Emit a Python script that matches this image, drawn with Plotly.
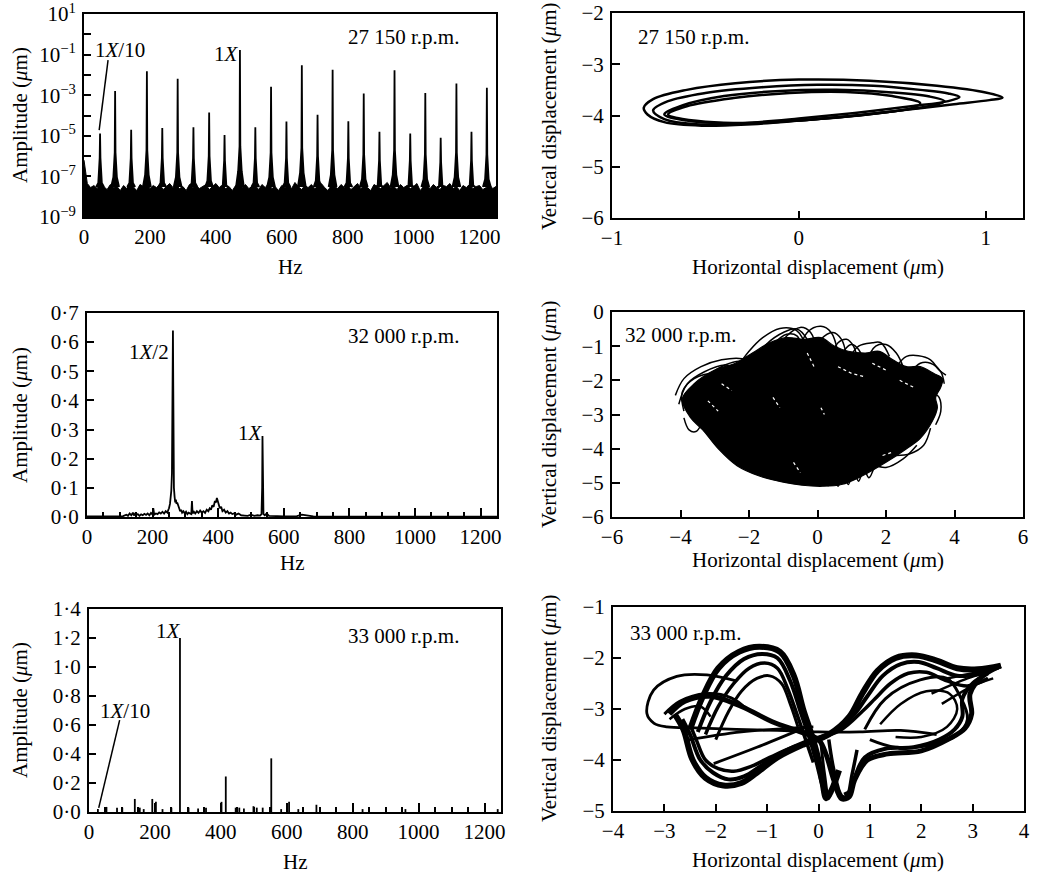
import plotly.graph_objects as go

W, H = 1040, 876
FONT = "Liberation Serif"
FS = 21

# ---------------- Panel 1: 27150 rpm spectrum (log) ----------------
floor_hz = list(range(0, 1260, 10))
floor_log = [-6.2, -7.35, -7.55, -7.45, -7.6, -7.3, -7.5, -7.65, -7.4, -7.55,
             -7.5, -7.7, -7.45, -7.6, -7.35, -7.55, -7.7, -7.4, -7.5, -7.3,
             -7.6, -7.45, -7.55, -7.4, -7.65, -7.5, -7.35, -7.55, -7.45, -7.6,
             -7.5, -7.7, -7.4, -7.55, -7.45, -7.6, -7.5, -7.4, -7.65, -7.5,
             -7.35, -7.55, -7.45, -7.6, -7.5, -7.7, -7.45, -7.3, -7.55, -7.4,
             -7.6, -7.5, -7.45, -7.65, -7.4, -7.55, -7.35, -7.6, -7.5, -7.7,
             -7.45, -7.55, -7.4, -7.6, -7.3, -7.5, -7.65, -7.45, -7.55, -7.4,
             -7.6, -7.5, -7.35, -7.55, -7.7, -7.45, -7.5, -7.6, -7.4, -7.55,
             -7.45, -7.65, -7.5, -7.35, -7.6, -7.45, -7.55, -7.7, -7.4, -7.5,
             -7.6, -7.45, -7.3, -7.55, -7.5, -7.65, -7.4, -7.55, -7.45, -7.6,
             -7.5, -7.35, -7.7, -7.5, -7.45, -7.6, -7.4, -7.55, -7.65, -7.45,
             -7.5, -7.35, -7.6, -7.5, -7.7, -7.45, -7.55, -7.4, -7.6, -7.5,
             -7.45, -7.65, -7.55, -7.4, -7.6, -7.5]
pk_hz = [48.7, 94.4, 143.1, 190.8, 237.5, 284.2, 332.0, 379.7, 426.4, 473.1,
         519.8, 567.5, 614.2, 660.9, 708.6, 754.3, 802.0, 848.7, 896.4, 942.1,
         989.8, 1035.5, 1082.2, 1129.9, 1175.6, 1222.3]
pk_amp = [1.3e-5, 1.6e-3, 2.0e-5, 1.5e-2, 2.4e-5, 6.5e-3, 2.6e-5, 1.4e-4, 1.1e-5, 1.7e-1,
          2.6e-5, 2.6e-3, 5.0e-5, 3.0e-2, 1.1e-4, 1.8e-2, 5.2e-5, 1.2e-3, 1.6e-5, 1.7e-2,
          1.3e-5, 1.3e-3, 8.0e-6, 3.8e-3, 1.6e-5, 2.3e-3]
pk_skirt = [8e-7, 1.5e-6, 8e-7, 2e-6, 8e-7, 1.5e-6, 8e-7, 1e-6, 6e-7, 3e-6,
            8e-7, 1.5e-6, 8e-7, 2.5e-6, 1e-6, 2e-6, 8e-7, 1.2e-6, 6e-7, 2e-6,
            6e-7, 1.2e-6, 5e-7, 1.5e-6, 6e-7, 1.2e-6]

# ---------------- Panel 3: 32000 rpm spectrum ----------------
s2_hz = [0, 40, 80, 110, 120, 125, 130, 135, 140, 143, 147, 150, 155, 160, 165, 170, 175, 180,
         185, 190, 195, 200, 202, 205, 210, 215, 220, 225, 230, 235, 240, 245, 248, 250, 253,
         255, 257, 259, 261, 262, 263, 264, 265, 267, 269, 271, 273, 275, 278, 281, 284, 287,
         290, 294, 298, 302, 306, 310, 314, 318, 320, 322, 326, 330, 335, 340, 345, 350, 355,
         360, 365, 370, 374, 378, 382, 386, 390, 393, 396, 399, 402, 405, 409, 413, 418, 423,
         428, 433, 438, 443, 448, 455, 462, 470, 480, 490, 500, 510, 520, 528, 532, 534, 535,
         536, 538, 542, 548, 555, 565, 580, 600, 620, 640, 655, 665, 675, 690, 720, 800, 1000, 1250]
s2_amp = [0.002, 0.002, 0.003, 0.003, 0.008, 0.004, 0.012, 0.006, 0.015, 0.005, 0.012, 0.006,
          0.010, 0.004, 0.009, 0.006, 0.011, 0.007, 0.012, 0.006, 0.014, 0.008, 0.030, 0.008,
          0.012, 0.010, 0.016, 0.012, 0.018, 0.012, 0.020, 0.015, 0.025, 0.030, 0.045, 0.060,
          0.090, 0.150, 0.380, 0.640, 0.450, 0.200, 0.100, 0.070, 0.050, 0.060, 0.045, 0.050,
          0.035, 0.030, 0.020, 0.025, 0.015, 0.020, 0.012, 0.018, 0.010, 0.015, 0.012, 0.010,
          0.055, 0.012, 0.018, 0.012, 0.020, 0.014, 0.022, 0.015, 0.020, 0.014, 0.025, 0.020,
          0.030, 0.025, 0.040, 0.035, 0.055, 0.050, 0.065, 0.050, 0.045, 0.030, 0.035, 0.020,
          0.025, 0.015, 0.020, 0.012, 0.015, 0.010, 0.012, 0.008, 0.012, 0.006, 0.005, 0.004,
          0.008, 0.004, 0.006, 0.005, 0.010, 0.100, 0.278, 0.100, 0.010, 0.006, 0.012, 0.004,
          0.003, 0.003, 0.002, 0.002, 0.003, 0.008, 0.006, 0.004, 0.002, 0.001, 0.001, 0.001, 0.001]

# ---------------- Panel 5: 33000 rpm spectrum ----------------
s3_hz = [27, 53, 85, 101, 139, 154, 166, 192, 203, 223, 250, 276, 302, 331, 355, 402, 415,
         445, 456, 470, 499, 509, 527, 553, 583, 607, 635, 690, 830, 960, 1240]
s3_amp = [0.02, 0.035, 0.03, 0.03, 0.09, 0.03, 0.02, 0.09, 0.07, 0.02, 0.03, 1.2, 0.03, 0.025,
          0.03, 0.07, 0.245, 0.03, 0.03, 0.025, 0.04, 0.03, 0.03, 0.37, 0.02, 0.07, 0.02, 0.05,
          0.02, 0.02, 0.02]

# ---------------- Panel 2: 27150 rpm orbit ----------------
o1_loops = [
    ([-0.83, -0.78, -0.60, -0.34, 0.00, 0.38, 0.74, 1.00, 1.09, 1.02, 0.83, 0.55, 0.29, 0.00, -0.25, -0.52, -0.72, -0.81, -0.83],
     [-3.85, -3.68, -3.50, -3.37, -3.30, -3.32, -3.42, -3.55, -3.65, -3.70, -3.78, -3.90, -4.01, -4.10, -4.17, -4.20, -4.13, -3.98, -3.85]),
    ([-0.78, -0.70, -0.50, -0.20, 0.10, 0.40, 0.65, 0.80, 0.86, 0.80, 0.60, 0.30, 0.00, -0.30, -0.55, -0.72, -0.78],
     [-3.90, -3.72, -3.56, -3.45, -3.40, -3.42, -3.50, -3.57, -3.64, -3.72, -3.82, -3.95, -4.06, -4.15, -4.17, -4.07, -3.90]),
    ([-0.72, -0.62, -0.40, -0.10, 0.20, 0.50, 0.70, 0.78, 0.72, 0.50, 0.20, -0.10, -0.40, -0.60, -0.72],
     [-3.98, -3.80, -3.62, -3.52, -3.50, -3.55, -3.63, -3.72, -3.80, -3.92, -4.04, -4.12, -4.15, -4.10, -3.98]),
    ([-0.70, -0.60, -0.35, -0.05, 0.25, 0.50, 0.65, 0.60, 0.40, 0.10, -0.20, -0.50, -0.65, -0.70],
     [-3.98, -3.82, -3.66, -3.56, -3.54, -3.62, -3.76, -3.86, -3.96, -4.07, -4.14, -4.12, -4.05, -3.98]),
]

# ---------------- Panel 4: 32000 rpm orbit ----------------
o2_core_x = [-3.95, -3.60, -3.00, -2.40, -1.90, -1.40, -0.90, -0.40, 0.10, 0.50, 0.90, 1.40, 1.80,
             2.20, 2.60, 3.00, 3.40, 3.65, 3.60, 3.45, 3.50, 3.35, 3.00, 2.60, 2.00, 1.30, 0.70,
             0.15, -0.45, -1.00, -1.70, -2.35, -2.90, -3.35, -3.70, -3.95]
o2_core_y = [-2.55, -2.10, -1.70, -1.50, -1.20, -0.90, -0.75, -0.80, -0.75, -1.00, -1.15, -1.20, -1.15,
             -1.40, -1.60, -1.60, -1.80, -1.95, -2.20, -2.50, -2.80, -3.20, -3.70, -4.00, -4.40, -4.80, -5.05,
             -5.10, -5.07, -4.98, -4.80, -4.50, -4.00, -3.45, -3.10, -2.55]
o2_arcs = [
    ([-4.15, -3.90, -3.40, -2.80, -2.20, -1.80], [-2.44, -1.95, -1.60, -1.40, -1.37, -1.60]),
    ([-4.05, -3.80, -3.30, -2.70, -2.30], [-2.70, -2.10, -1.75, -1.55, -1.70]),
    ([-3.90, -3.95, -3.60, -3.00, -2.60], [-2.90, -2.35, -1.95, -1.80, -2.00]),
    ([-3.50, -3.20, -2.70, -2.20, -1.90], [-2.40, -1.90, -1.55, -1.45, -1.70]),
    ([-2.40, -2.00, -1.60, -1.10, -0.60, -0.30], [-1.70, -1.15, -0.75, -0.48, -0.55, -1.10]),
    ([-2.00, -1.50, -1.00, -0.60, -0.30, -0.10], [-1.60, -0.95, -0.60, -0.50, -0.80, -1.30]),
    ([-1.70, -1.30, -0.90, -0.60, -0.45], [-1.50, -0.95, -0.65, -0.70, -1.10]),
    ([-1.30, -0.90, -0.50, -0.20, 0.00], [-1.30, -0.70, -0.45, -0.60, -1.20]),
    ([-0.60, -0.30, 0.10, 0.40, 0.60], [-1.30, -0.60, -0.42, -0.60, -1.20]),
    ([-0.20, 0.10, 0.45, 0.70, 0.85], [-1.40, -0.80, -0.60, -0.80, -1.30]),
    ([0.30, 0.60, 0.85, 1.05, 1.20], [-1.50, -0.90, -0.80, -1.00, -1.50]),
    ([0.60, 0.80, 1.00, 1.20, 1.40], [-1.60, -1.10, -0.95, -1.10, -1.60]),
    ([0.90, 1.20, 1.60, 1.85, 2.10], [-1.40, -1.00, -0.90, -0.90, -1.30]),
    ([1.40, 1.70, 2.00, 2.30, 2.50], [-1.50, -1.00, -0.95, -1.20, -1.60]),
    ([2.30, 2.60, 2.95, 3.30, 3.55, 3.75], [-1.60, -1.30, -1.28, -1.40, -1.70, -1.85]),
    ([2.70, 3.00, 3.30, 3.60, 3.70], [-1.80, -1.50, -1.50, -1.75, -2.10]),
    ([3.30, 3.55, 3.60, 3.45], [-2.30, -2.50, -2.90, -3.30]),
    ([-3.90, -3.75, -3.55, -3.40], [-3.10, -3.45, -3.50, -3.30]),
    ([-3.80, -3.55, -3.35], [-2.80, -3.05, -3.00]),
    ([3.30, 3.10, 2.70, 2.30], [-3.40, -3.90, -4.15, -4.20]),
    ([2.90, 2.50, 2.00, 1.60], [-3.90, -4.30, -4.55, -4.45]),
    ([0.30, 0.45, 0.60, 0.75, 0.90, 1.05, 1.20, 1.35, 1.50, 1.65],
     [-5.10, -4.75, -5.10, -4.70, -5.05, -4.65, -4.95, -4.60, -4.85, -4.55]),
]
o2_gaps = [
    ([-2.80, -2.50], [-2.10, -2.30]),
    ([0.60, 1.00, 1.40], [-1.60, -1.80, -1.90]),
    ([1.60, 2.00], [-1.50, -1.70]),
    ([-1.30, -1.10], [-2.50, -2.80]),
    ([0.10, 0.20], [-2.80, -3.00]),
    ([-0.70, -0.50], [-4.40, -4.70]),
    ([1.90, 2.20], [-4.20, -4.10]),
    ([-3.20, -2.90], [-2.60, -2.90]),
    ([-0.30, -0.10], [-1.20, -1.60]),
    ([2.40, 2.80], [-2.00, -2.20]),
]

# ---------------- Panel 6: 33000 rpm orbit ----------------
o3_strands = [
    ([-1.60, -2.17, -2.76, -3.21, -3.34, -3.20, -2.95, -2.40, -1.60, -0.80, 0.00, 0.80, 1.60, 2.30],
     [-2.45, -2.33, -2.36, -2.63, -3.09, -3.28, -3.35, -3.37, -3.40, -3.42, -3.45, -3.45, -3.42, -3.50], 2.8),
    ([-2.50, -2.25, -1.95, -1.55, -1.15, -0.75, -0.48, -0.30, -0.12, 0.00, 0.08, 0.15, 0.25, 0.40],
     [-3.40, -2.75, -2.20, -1.88, -1.78, -1.88, -2.35, -3.00, -3.55, -4.00, -4.45, -4.75, -4.60, -4.20], 6),
    ([-2.35, -2.10, -1.80, -1.45, -1.10, -0.80, -0.55, -0.35, -0.18, -0.05, 0.05, 0.12],
     [-3.45, -2.85, -2.35, -2.02, -1.92, -2.00, -2.45, -3.05, -3.55, -4.00, -4.40, -4.65], 4),
    ([-2.20, -1.95, -1.65, -1.35, -1.05, -0.80, -0.60, -0.42, -0.25, -0.10],
     [-3.50, -2.95, -2.50, -2.20, -2.10, -2.20, -2.60, -3.10, -3.60, -4.05], 3.5),
    ([-2.00, -1.75, -1.50, -1.20, -0.95, -0.72, -0.55, -0.40],
     [-3.60, -3.05, -2.65, -2.40, -2.35, -2.50, -2.90, -3.35], 3),
    ([-2.80, -2.63, -2.45, -2.20, -1.85, -1.50, -1.20, -0.80, -0.30, 0.20, 0.60, 0.85, 1.15, 1.50, 1.90, 2.30, 2.70, 3.10, 3.55],
     [-3.10, -3.40, -4.00, -4.35, -4.50, -4.45, -4.25, -3.95, -3.70, -3.50, -3.15, -2.70, -2.25, -2.00, -1.95, -2.05, -2.20, -2.22, -2.15], 6),
    ([-2.65, -2.50, -2.30, -2.05, -1.75, -1.45, -1.10, -0.70, -0.20, 0.30, 0.70, 0.95, 1.25, 1.60, 1.95, 2.30, 2.70, 3.20],
     [-3.20, -3.50, -4.00, -4.25, -4.38, -4.32, -4.10, -3.85, -3.62, -3.45, -3.10, -2.75, -2.35, -2.12, -2.08, -2.20, -2.35, -2.30], 4),
    ([-2.50, -2.38, -2.20, -1.95, -1.65, -1.30, -0.95, -0.50, 0.00, 0.45, 0.85, 1.10, 1.40, 1.75, 2.10, 2.50, 2.90, 3.30],
     [-3.30, -3.60, -4.00, -4.17, -4.22, -4.12, -3.95, -3.75, -3.58, -3.40, -3.05, -2.80, -2.50, -2.30, -2.28, -2.45, -2.55, -2.40], 3.5),
    ([3.55, 3.20, 2.95, 2.98, 2.85, 2.55, 2.00, 1.35, 0.95, 0.70, 0.60, 0.45, 0.30, 0.15, 0.00, -0.35, -0.90, -1.50, -2.10, -2.60, -2.90],
     [-2.15, -2.35, -2.70, -3.10, -3.38, -3.58, -3.82, -3.88, -4.00, -4.40, -4.72, -4.76, -4.40, -3.90, -3.60, -3.45, -3.25, -2.95, -2.75, -2.85, -3.10], 5),
    ([3.30, 3.00, 2.80, 2.80, 2.65, 2.35, 1.85, 1.30, 0.90, 0.72, 0.62, 0.50],
     [-2.30, -2.50, -2.80, -3.15, -3.40, -3.60, -3.75, -3.78, -3.95, -4.30, -4.60, -4.68], 4),
    ([0.90, 1.30, 1.98, 2.50, 2.76, 2.90, 2.70, 2.20, 1.50, 1.00],
     [-3.40, -2.80, -2.43, -2.40, -2.76, -3.20, -3.50, -3.70, -3.75, -3.60], 3),
    ([1.20, 1.60, 2.10, 2.55, 2.70, 2.50, 2.00, 1.50],
     [-3.30, -2.90, -2.65, -2.70, -3.00, -3.35, -3.55, -3.55], 2.5),
    ([-3.00, -2.70, -2.20, -1.70, -1.40], [-3.10, -2.85, -2.70, -2.78, -3.00], 3),
    ([-2.90, -2.60, -2.30, -2.10], [-3.20, -3.00, -2.95, -3.15], 2.5),
    ([-2.04, -1.20, -0.23], [-4.07, -3.75, -3.35], 2.8),
    ([-2.56, -1.50, -0.10], [-3.61, -3.45, -3.35], 2.8),
    ([0.20, 0.30, 0.45, 0.55, 0.65, 0.75], [-3.60, -4.20, -4.70, -4.72, -4.30, -3.80], 3.5),
    ([0.05, 0.12, 0.20, 0.30], [-3.70, -4.30, -4.75, -4.40], 3),
    ([2.50, 3.00, 3.50], [-2.40, -2.30, -2.20], 2.5),
    ([2.20, 2.90, 3.50], [-2.70, -2.40, -2.20], 2.5),
    ([2.40, 3.00, 3.40], [-2.90, -2.55, -2.40], 2.5),
]

fig = go.Figure()

def dom(x0, x1, y0, y1):
    return [x0 / W, x1 / W], [1 - y1 / H, 1 - y0 / H]

panels = {
    1: (84, 496, 14, 217),
    2: (612, 1023, 13, 218),
    3: (87, 497, 313, 517),
    4: (612, 1023, 312, 517),
    5: (89, 501, 609, 812),
    6: (613, 1024, 607, 811),
}

BLK = "black"
# Panel 1
flx = floor_hz + floor_hz[::-1]
fly = [10 ** v for v in floor_log] + [1e-10] * len(floor_hz)
fig.add_trace(go.Scatter(x=flx, y=fly, fill="toself", fillcolor=BLK, mode="lines",
                         line=dict(color=BLK, width=1), xaxis="x", yaxis="y", hoverinfo="skip"))
for f, a, s in zip(pk_hz, pk_amp, pk_skirt):
    hw = 12
    px = [f - hw, f - hw * 0.45, f - 1.2, f, f + 1.2, f + hw * 0.45, f + hw]
    py = [3e-8, s * 0.06, s, a, s, s * 0.06, 3e-8]
    fig.add_trace(go.Scatter(x=px, y=py, fill="toself", fillcolor=BLK, mode="lines",
                             line=dict(color=BLK, width=1.8), xaxis="x", yaxis="y", hoverinfo="skip"))
fig.add_trace(go.Scatter(x=[46, 73], y=[1.9e-5, 5.4e-2], mode="lines", line=dict(color=BLK, width=1.5),
                         xaxis="x", yaxis="y"))

# Panel 3
fig.add_trace(go.Scatter(x=s2_hz, y=s2_amp, mode="lines", line=dict(color=BLK, width=1.8),
                         xaxis="x3", yaxis="y3"))

# Panel 5
sx, sy = [], []
for f, a in zip(s3_hz, s3_amp):
    sx += [f, f, None]
    sy += [0, a, None]
fig.add_trace(go.Scatter(x=sx, y=sy, mode="lines", line=dict(color=BLK, width=1.8),
                         xaxis="x5", yaxis="y5"))
fig.add_trace(go.Scatter(x=[29.5, 93], y=[0.028, 0.634], mode="lines", line=dict(color=BLK, width=1.5),
                         xaxis="x5", yaxis="y5"))

# Panel 2
for lx, ly in o1_loops:
    fig.add_trace(go.Scatter(x=lx, y=ly, mode="lines", line=dict(color=BLK, width=2.5, shape="spline"),
                             xaxis="x2", yaxis="y2"))

# Panel 4
fig.add_trace(go.Scatter(x=o2_core_x, y=o2_core_y, fill="toself", fillcolor=BLK, mode="lines",
                         line=dict(color=BLK, width=1.2, shape="spline"), xaxis="x4", yaxis="y4"))
for lx, ly in o2_arcs:
    fig.add_trace(go.Scatter(x=lx, y=ly, mode="lines", line=dict(color=BLK, width=1.5, shape="spline"),
                             xaxis="x4", yaxis="y4"))
for lx, ly in o2_gaps:
    fig.add_trace(go.Scatter(x=lx, y=ly, mode="lines", line=dict(color="white", width=1.2, dash="dot"),
                             xaxis="x4", yaxis="y4"))

# Panel 6
for lx, ly, w in o3_strands:
    fig.add_trace(go.Scatter(x=lx, y=ly, mode="lines", line=dict(color=BLK, width=w, shape="spline"),
                             xaxis="x6", yaxis="y6"))

base = dict(showline=True, linewidth=2, linecolor=BLK, mirror=True, ticks="inside",
            tickcolor=BLK, tickwidth=1.5, showgrid=False, zeroline=False, automargin=False,
            ticklabeloverflow="allow",
            tickfont=dict(family=FONT, size=FS, color=BLK))
layout = dict(width=W, height=H, margin=dict(l=0, r=0, t=0, b=0, autoexpand=False), showlegend=False,
              plot_bgcolor="white", paper_bgcolor="white")

spec_x = dict(range=[0, 1250], tickvals=[0, 200, 400, 600, 800, 1000, 1200], ticklen=9,
              minor=dict(dtick=50, tick0=0, ticks="inside", ticklen=5, tickwidth=1.5, tickcolor=BLK))

for i, (x0, x1, y0, y1) in panels.items():
    dx, dy = dom(x0, x1, y0, y1)
    xa = dict(base, domain=dx, anchor=f"y{i}", ticklabelstandoff=0)
    ya = dict(base, domain=dy, anchor=f"x{i}", ticklabelstandoff=2)
    if i in (1, 3, 5):
        xa.update(spec_x)
        ya.update(ticklen=7)
    else:
        xa.update(ticklen=7)
        ya.update(ticklen=8)
    if i == 1:
        ya.update(type="log", range=[-9.0005, 1.0005],
                  tickvals=[10 ** e for e in range(1, -10, -1)],
                  ticktext=[("10<sup>" + str(e).replace("-", "−") + "</sup>") if e % 2 else ""
                            for e in range(1, -10, -1)])
    elif i == 3:
        ya.update(range=[0, 0.7], tickvals=[0, 0.1, 0.2, 0.3, 0.4, 0.5, 0.6, 0.7],
                  ticktext=["0·0", "0·1", "0·2", "0·3", "0·4", "0·5", "0·6", "0·7"])
    elif i == 5:
        ya.update(range=[0, 1.4], tickvals=[0, 0.2, 0.4, 0.6, 0.8, 1.0, 1.2, 1.4],
                  ticktext=["0·0", "0·2", "0·4", "0·6", "0·8", "1·0", "1·2", "1·4"])
    elif i == 2:
        xa.update(range=[-1, 1.2], tickvals=[-1, 0, 1])
        ya.update(range=[-6, -2], tickvals=[-6, -5, -4, -3, -2])
    elif i == 4:
        xa.update(range=[-6, 6], tickvals=[-6, -4, -2, 0, 2, 4, 6])
        ya.update(range=[-6, 0], tickvals=[-6, -5, -4, -3, -2, -1, 0])
    elif i == 6:
        xa.update(range=[-4, 4], tickvals=[-4, -3, -2, -1, 0, 1, 2, 3, 4])
        ya.update(range=[-5, -1], tickvals=[-5, -4, -3, -2, -1])
    key = "" if i == 1 else str(i)
    layout["xaxis" + key] = xa
    layout["yaxis" + key] = ya

fig.update_layout(**layout)

def ann(text, x, y, size=FS, angle=0, xanchor="center"):
    fig.add_annotation(text=text, x=x / W, y=1 - y / H, xref="paper", yref="paper",
                       showarrow=False, textangle=angle, xanchor=xanchor, yanchor="middle",
                       font=dict(family=FONT, size=size, color=BLK))

amp_t = "Amplitude (<i>μ</i>m)"
vert_t = "Vertical displacement (<i>μ</i>m)"
hor_t = "Horizontal displacement (<i>μ</i>m)"
for cy in (115, 415, 710):
    ann(amp_t, 20, cy, angle=-90)
for cy in (117, 415, 709):
    ann(vert_t, 549, cy, angle=-90)
ann("Hz", 290, 267)
ann("Hz", 292, 563)
ann("Hz", 295, 862)
ann(hor_t, 818, 267)
ann(hor_t, 818, 560)
ann(hor_t, 818, 860)

ann("27 150 r.p.m.", 403, 37)
ann("27 150 r.p.m.", 693, 37)
ann("32 000 r.p.m.", 403, 336)
ann("32 000 r.p.m.", 680, 335)
ann("33 000 r.p.m.", 403, 636)
ann("33 000 r.p.m.", 685, 633)

ann("1<i>X</i>/10", 120, 50)
ann("1<i>X</i>", 226, 54)
ann("1<i>X</i>/2", 149, 352)
ann("1<i>X</i>", 250, 433)
ann("1<i>X</i>", 168, 631)
ann("1<i>X</i>/10", 125, 711)

fig.write_html("out.html", config={"displayModeBar": False},
               post_script="document.body.style.margin='0px';document.body.style.overflow='hidden';")
